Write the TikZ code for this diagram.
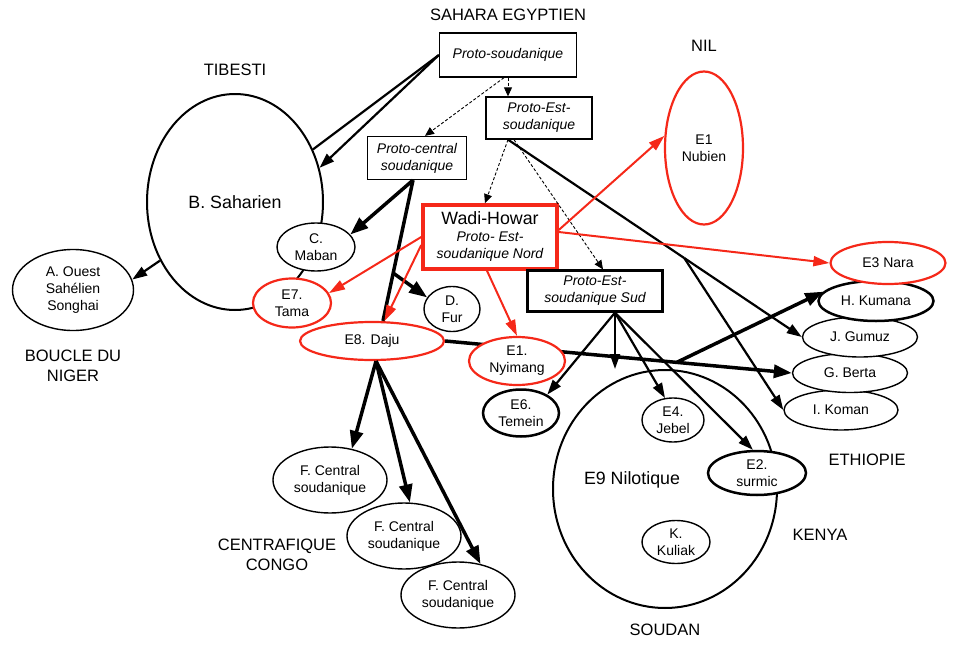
\documentclass[tikz,border=0pt]{standalone}
\usepackage{fontspec}
\setmainfont{Liberation Sans}
\usepackage{tikz}
\usetikzlibrary{positioning, arrows.meta, shapes.geometric, calc, backgrounds}
\definecolor{wadired}{RGB}{245,40,25}

\begin{document}
\begin{tikzpicture}[x=1pt, y=-1pt, % one unit is one pixel of the drawing, y goes down
  >={Triangle[length=15pt,width=10pt]}, % filled arrow heads
  every node/.style={font=\fontsize{14}{17}\selectfont, align=center},
  group/.style={ellipse, draw, fill=white, line width=1.4pt, inner sep=0pt}, % language groups
  boldgroup/.style={group, line width=2.5pt},
  redgroup/.style={group, draw=wadired, line width=2.2pt}, % groups coming from Wadi-Howar
  proto/.style={rectangle, draw, fill=white, line width=1.3pt, font=\fontsize{14}{17}\selectfont\itshape},
  region/.style={font=\fontsize{16.5}{20}\selectfont}, % place names
  dashlink/.style={->, line width=0.9pt, dash pattern=on 3pt off 2pt, >={Triangle[length=9pt,width=8pt]}},
  link/.style={->, line width=2.2pt, >={Triangle[length=15pt,width=10pt]}},
  heavy/.style={->, line width=3.5pt, >={Triangle[length=18pt,width=13pt]}},
  redlink/.style={->, wadired, line width=2pt, >={Triangle[length=16pt,width=10pt]}},
]
\useasboundingbox (0,0) rectangle (970,645);

\node[proto, minimum width=137pt, minimum height=44pt] (1) at (508,55) {Proto-soudanique};
\node[proto, minimum width=106pt, minimum height=42pt] (2) at (539,118) {Proto-Est-\\soudanique};
\node[proto, minimum width=99pt, minimum height=43pt] (3) at (417,158) {Proto-central\\soudanique};
\node[proto, draw=wadired, line width=3.5pt, minimum width=134pt, minimum height=64pt] (4) at (490,237)
  {{\fontsize{17.8}{19}\selectfont\upshape Wadi-Howar}\\Proto- Est-\\soudanique Nord};
\node[proto, line width=2.2pt, minimum width=135pt, minimum height=41pt] (5) at (595,291) {Proto-Est-\\soudanique Sud};

\node[group, line width=2pt, minimum width=176pt, minimum height=216pt, font=\fontsize{17.8}{21}\selectfont] (6) at (235,202) {B. Saharien};
\node[group, minimum width=78pt, minimum height=48pt] (7) at (316,247) {C.\\Maban};
\node[group, minimum width=121pt, minimum height=81pt] (8) at (73,290) {A. Ouest\\Sahélien\\Songhai};
\node[redgroup, minimum width=78pt, minimum height=49pt] (9) at (292,303) {E7.\\Tama};
\node[redgroup, minimum width=144pt, minimum height=38pt] (10) at (372,341) {E8. Daju};
\node[group, minimum width=56pt, minimum height=45pt] (11) at (452,309) {D.\\Fur};
\node[redgroup, minimum width=96pt, minimum height=48pt] (12) at (517,361) {E1.\\Nyimang};
\node[boldgroup, minimum width=76pt, minimum height=47pt] (13) at (521,413) {E6.\\Temein};
\node[redgroup, minimum width=78pt, minimum height=153pt] (14) at (704,148) {E1\\Nubien};

\node[group, minimum width=114pt, minimum height=40pt] (19) at (841,410) {I. Koman};
\node[group, minimum width=115pt, minimum height=39pt] (18) at (850,373) {G. Berta};
\node[group, minimum width=115pt, minimum height=40pt] (17) at (860,337) {J. Gumuz};
\node[boldgroup, minimum width=115pt, minimum height=40pt] (16) at (876,301) {H. Kumana};
\node[redgroup, minimum width=115pt, minimum height=42pt] (15) at (888,263) {E3 Nara};

\node[group, line width=2pt, minimum width=224pt, minimum height=238pt,
  label={[xshift=-33pt, yshift=9pt, font=\fontsize{17.8}{21}\selectfont]center:E9 Nilotique}] (20) at (665,489) {};
\node[group, minimum width=62pt, minimum height=44pt] (21) at (673,420) {E4.\\Jebel};
\node[boldgroup, minimum width=98pt, minimum height=44pt] (22) at (757,473) {E2.\\surmic};
\node[group, minimum width=68pt, minimum height=43pt] (23) at (676,542) {K.\\Kuliak};

\node[group, minimum width=114pt, minimum height=66pt] (24) at (330,480) {F. Central\\soudanique};
\node[group, minimum width=114pt, minimum height=66pt] (25) at (404,536) {F. Central\\soudanique};
\node[group, minimum width=114pt, minimum height=66pt] (26) at (458,595) {F. Central\\soudanique};

\node[region, above=8pt of 1] (sahara) {SAHARA EGYPTIEN};
\node[region, above=14pt of 6] (tibesti) {TIBESTI};
\node[region, above=15pt of 14] (nil) {NIL};
\node[region, below=15pt of 8] (boucle) {BOUCLE DU\\NIGER};
\node[region, below=11pt of 20] (soudan) {SOUDAN};
\node[region] (congo) at (277,555) {CENTRAFIQUE\\CONGO};
\node[region] (ethiopie) at (867,460) {ETHIOPIE};
\node[region] (kenya) at (820,535) {KENYA};

\coordinate (k) at ($([xshift=-31pt]2.south)!0.6!(17.west)$);
\coordinate (s) at ([xshift=20pt]5.south);
\coordinate (h1) at ([xshift=-4pt]3.south);
\coordinate (h2) at ([xshift=11pt]10.north);

\begin{pgfonlayer}{background}
  \draw[heavy] (10.east) -- (18.west);
  \draw[heavy] ($(10.east)!0.668!(18.west)$) -- (16.170);
\end{pgfonlayer}

\path[dashlink] (1.south) edge (1.south |- 2.north)
  ([xshift=-4pt]1.south) edge ([xshift=8pt]3.north)
  ([xshift=-31pt]2.south) edge ([xshift=-5pt]4.north)
  ([xshift=-25pt]2.south) edge ([xshift=8pt]5.north);

\path[link] (1.west) edge[-] (6.34)
  (1.west) edge (6.22)
  (6.218) edge (8.10)
  ([xshift=-31pt]2.south) edge[-] (k)
  (k) edge (17.west)
  (k) edge (19.west)
  (s) edge (13.35)
  (s) edge (s |- 20.north)
  (s) edge (21.110)
  (s) edge (22.100);

\path[heavy] (h1) edge[-] (h2)
  (h1) edge (7.20)
  ($(h1)!0.66!(h2)$) edge (11.155)
  ([xshift=4pt]10.south) edge (24.55)
  ([xshift=4pt]10.south) edge (25.80)
  ([xshift=4pt]10.south) edge (26.54);

\path[redlink] ([yshift=7pt]4.east) edge (14.163)
  ([yshift=5pt]4.east) edge (15.west)
  (4.west) edge (9.15)
  ([yshift=-8pt]4.west) edge (10.58)
  ([xshift=-3pt]4.south) edge (12.north);
\end{tikzpicture}
\end{document}
